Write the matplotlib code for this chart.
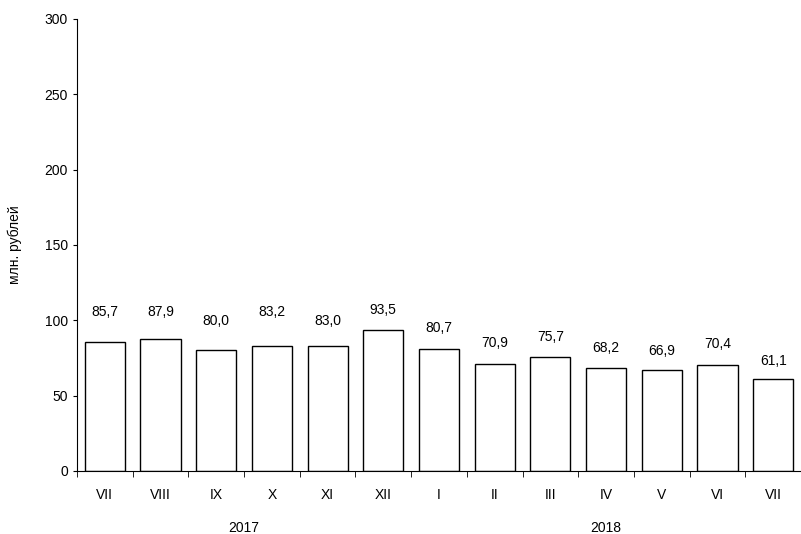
import matplotlib.pyplot as plt
import numpy as np

plt.rcParams['font.family'] = ['Liberation Sans', 'DejaVu Sans']

# данные: млн. рублей по месяцам
months = ['VII', 'VIII', 'IX', 'X', 'XI', 'XII',
          'I', 'II', 'III', 'IV', 'V', 'VI', 'VII']
values = [85.7, 87.9, 80.0, 83.2, 83.0, 93.5,
          80.7, 70.9, 75.7, 68.2, 66.9, 70.4, 61.1]
years = ['2017', '2018']
year_spans = [(0, 5), (6, 12)]

# сдвиг подписей над столбцами (в пикселях), как в оригинале
label_offsets = [30, 27, 29, 34, 25, 20, 21, 21, 20, 20, 19, 21, 18]

fig = plt.figure(figsize=(8.01, 5.34), dpi=100)
ax = fig.add_axes([77 / 801, 1 - 471 / 534, 1 - 77 / 801, (471 - 19) / 534])

x = np.arange(len(months))
ax.bar(x, values, width=0.72, color='white', edgecolor='black', linewidth=1)

for xi, v, off in zip(x, values, label_offsets):
    ax.annotate(f'{v:.1f}'.replace('.', ','), (xi, v), xytext=(0, off * 0.72),
                textcoords='offset points', ha='center', va='center', fontsize=10)

ax.set_xlim(-0.5, len(months) - 0.5)
ax.set_ylim(0, 300)
ax.set_yticks(np.arange(0, 301, 50))
fig.text(15 / 801, 1 - 245 / 534, 'млн. рублей', rotation=90,
         ha='center', va='center', fontsize=10)

ax.set_xticks(x)
ax.set_xticklabels(months, fontsize=10)
ax.set_xticks(np.arange(-0.5, len(months) - 0.5, 1), minor=True)
ax.tick_params(axis='x', which='major', length=0, pad=12)
ax.tick_params(axis='x', which='minor', length=4, direction='out')
ax.tick_params(axis='y', length=3, direction='out', labelsize=10)

ax.spines['top'].set_visible(False)
ax.spines['right'].set_visible(False)

for yr, (a, b) in zip(years, year_spans):
    ax.text((a + b) / 2, -0.125, yr, transform=ax.get_xaxis_transform(),
            ha='center', va='center', fontsize=10)

plt.savefig('out.png', dpi=100)
